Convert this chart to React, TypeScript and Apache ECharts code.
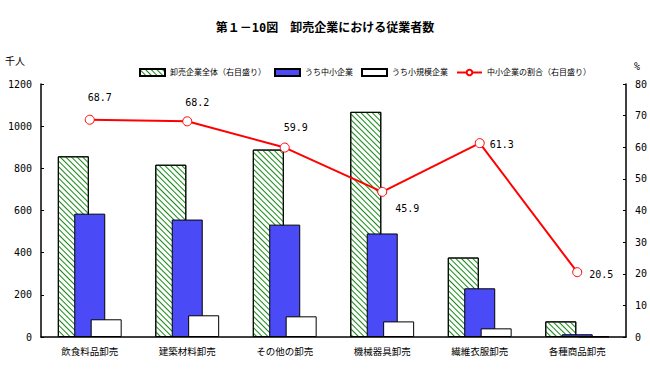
import React, { useEffect, useRef } from "react";
import * as echarts from "echarts";

const categories = ["飲食料品卸売", "建築材料卸売", "その他の卸売", "機械器具卸売", "繊維衣服卸売", "各種商品卸売"];
const totalEmployees = [857, 817, 889, 1068, 377, 74];
const smeEmployees = [585, 557, 533, 491, 231, 13];
const smallEmployees = [84, 103, 98, 74, 41, 2];
const smeShare = [68.7, 68.2, 59.9, 45.9, 61.3, 20.5];
const leftTicks = { min: 0, max: 1200, interval: 200 };
const rightTicks = { min: 0, max: 80, interval: 10 };
const seriesNames = ["卸売企業全体（右目盛り）", "うち中小企業", "うち小規模企業", "中小企業の割合（右目盛り）"];
const titleText = "第１－10図　卸売企業における従業者数";

// label placement for the share line (style, not data)
const labelPlacement: { position: string; offset: number[] }[] = [
  { position: "top", offset: [10, -7] },
  { position: "top", offset: [10, -4] },
  { position: "top", offset: [11, -5] },
  { position: "right", offset: [3, 17] },
  { position: "right", offset: [0, 1] },
  { position: "right", offset: [2, 2] },
];

const FONT = "'DejaVu Sans Mono', 'Noto Sans CJK JP', monospace";

export default function App() {
  const ref = useRef<HTMLDivElement>(null);
  useEffect(() => {
    if (!ref.current) return;
    const chart = echarts.init(ref.current, null, { renderer: "svg" });
    const barBase = {
      type: "bar",
      barWidth: 31,
      barGap: "-47%",
      yAxisIndex: 0,
    };
    chart.setOption({
      animation: false,
      backgroundColor: "#ffffff",
      textStyle: { fontFamily: FONT, color: "#000" },
      title: {
        text: titleText,
        left: "center",
        top: 17,
        textStyle: { fontSize: 12, fontWeight: "bold", fontFamily: FONT, color: "#000" },
      },
      legend: {
        left: 134,
        top: 63,
        itemWidth: 25,
        itemHeight: 7,
        itemGap: 8,
        textStyle: { fontSize: 8, fontFamily: FONT, color: "#000" },
        data: [
          { name: seriesNames[0], icon: "rect" },
          { name: seriesNames[1], icon: "rect" },
          { name: seriesNames[2], icon: "rect" },
          { name: seriesNames[3] },
        ],
      },
      grid: { left: 41, right: 22, top: 84, bottom: 42 },
      xAxis: {
        type: "category",
        data: categories,
        axisLine: { lineStyle: { color: "#000", width: 1.5 } },
        axisTick: { show: false },
        axisLabel: { fontSize: 9.5, margin: 10, color: "#000", fontFamily: FONT },
      },
      yAxis: [
        {
          type: "value",
          ...leftTicks,
          position: "left",
          splitLine: { show: false },
          axisLine: { show: true, lineStyle: { color: "#000", width: 1.5 } },
          axisTick: { show: true, inside: true, length: 3, lineStyle: { color: "#000" } },
          axisLabel: { fontSize: 10, margin: 9, color: "#000", fontFamily: FONT, formatter: (v: number) => String(v) },
        },
        {
          type: "value",
          ...rightTicks,
          position: "right",
          splitLine: { show: false },
          axisLine: { show: true, lineStyle: { color: "#000", width: 1.5 } },
          axisTick: { show: true, inside: true, length: 3, lineStyle: { color: "#000" } },
          axisLabel: { fontSize: 10, margin: 9, color: "#000", fontFamily: FONT },
        },
      ],
      graphic: [
        { type: "text", left: 5, top: 56, style: { text: "千人", fontSize: 10, fontFamily: FONT, fill: "#000" } },
        { type: "text", left: 634, top: 61, style: { text: "%", fontSize: 10, fontFamily: FONT, fill: "#000" } },
      ],
      series: [
        {
          ...barBase,
          name: seriesNames[0],
          data: totalEmployees,
          itemStyle: {
            color: "#ffffff",
            borderColor: "#000",
            borderWidth: 1,
            decal: {
              symbol: "rect",
              symbolSize: 1,
              color: "#138a13",
              dashArrayX: [1, 0],
              dashArrayY: [1, 2.5],
              rotation: Math.PI / 4,
            },
          },
        },
        {
          ...barBase,
          name: seriesNames[1],
          data: smeEmployees,
          itemStyle: { color: "#4a4af6", borderColor: "#000", borderWidth: 1 },
        },
        {
          ...barBase,
          name: seriesNames[2],
          data: smallEmployees,
          itemStyle: { color: "#ffffff", borderColor: "#000", borderWidth: 1 },
        },
        {
          type: "line",
          name: seriesNames[3],
          yAxisIndex: 1,
          symbol: "circle",
          symbolSize: 9,
          z: 5,
          lineStyle: { color: "#ff0000", width: 2 },
          itemStyle: { color: "#ffffff", borderColor: "#ff0000", borderWidth: 1 },
          label: { show: true, fontSize: 10, color: "#000", fontFamily: FONT },
          data: smeShare.map((v, i) => ({
            value: v,
            label: { position: labelPlacement[i].position, offset: labelPlacement[i].offset },
          })),
        },
      ],
    });
    return () => chart.dispose();
  }, []);
  return <div ref={ref} style={{ position: "fixed", left: 0, top: 0, width: 650, height: 379 }} />;
}
